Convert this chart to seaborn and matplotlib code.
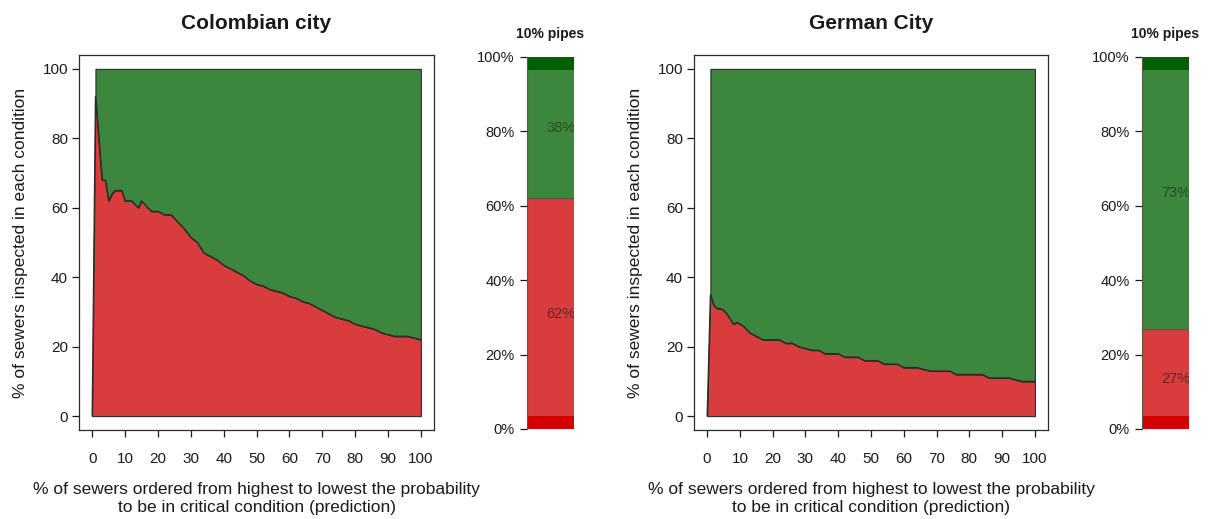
import matplotlib
matplotlib.use("Agg")
import matplotlib.pyplot as plt
import matplotlib.transforms as mtransforms
from matplotlib.ticker import FuncFormatter
import seaborn as sns
import pandas as pd

# --- data ---
x_pct = [0, 1, 2, 3, 4, 5, 6, 7, 8, 9, 10, 11, 12, 13, 14, 15, 16, 17, 18, 19, 20,
         22, 24, 26, 28, 30, 32, 34, 36, 38, 40, 42, 44, 46, 48, 50, 52, 54, 56, 58, 60,
         62, 64, 66, 68, 70, 72, 74, 76, 78, 80, 82, 84, 86, 88, 90, 92, 94, 96, 98, 100]

colombia_critical = [0, 92, 80, 68, 68, 62, 64, 65, 65, 65, 62, 62, 62, 61, 60, 62, 61, 60, 59, 59, 59,
                     58, 58, 56, 54, 51.5, 50, 47, 46, 45, 43.5, 42.5, 41.5, 40.5, 39, 38, 37.5, 36.5, 36, 35.5, 34.5,
                     34, 33, 32.5, 31.5, 30.5, 29.5, 28.5, 28, 27.5, 26.5, 26, 25.5, 25, 24, 23.5, 23, 23, 23, 22.5, 22]

germany_critical = [0, 35, 32, 31, 31, 30.5, 29.5, 28, 26.5, 27, 26.5, 26, 25, 24, 23.5, 23, 22.5, 22, 22, 22, 22,
                    22, 21, 21, 20, 19.5, 19, 19, 18, 18, 18, 17, 17, 17, 16, 16, 16, 15, 15, 15, 14,
                    14, 14, 13.5, 13, 13, 13, 13, 12, 12, 12, 12, 12, 11, 11, 11, 11, 10.5, 10, 10, 10]

# share of critical / not critical among the top 10% of pipes
top10_critical = {"Colombian city": 62, "German City": 27}
top10_good = {"Colombian city": 38, "German City": 73}
strip = 3.5   # darker bands at the bottom and top of each bar

cities = ["Colombian city", "German City"]
curves = {"Colombian city": colombia_critical, "German City": germany_critical}

GREEN = "#3d863d"
RED = "#d93c3c"
DARK_GREEN = "#006000"
DARK_RED = "#d40000"
EDGE = "#2b2b2b"

sns.set_theme(style="white")
plt.rcParams["font.family"] = ["Liberation Sans", "DejaVu Sans"]
plt.rcParams["text.color"] = "#1a1a1a"
plt.rcParams["axes.labelcolor"] = "#1a1a1a"
plt.rcParams["xtick.color"] = "#1a1a1a"
plt.rcParams["ytick.color"] = "#1a1a1a"

W, H = 1208, 519
fig = plt.figure(figsize=(W / 100, H / 100), dpi=100)


def px_axes(left, top, right, bottom):
    return fig.add_axes([left / W, 1 - bottom / H, (right - left) / W, (bottom - top) / H])


layout = {
    "Colombian city": ((79, 55, 434, 430), (527, 57, 574, 429)),
    "German City": ((694, 55, 1048, 430), (1142, 57, 1189, 429)),
}

for city in cities:
    main_box, bar_box = layout[city]
    ax = px_axes(*main_box)
    df = pd.DataFrame({"x": x_pct, "y": curves[city]})

    ax.fill_between(df["x"], 0, df["y"], color=RED, edgecolor=EDGE, linewidth=0.8, zorder=2)
    ax.fill_between(df["x"][1:], df["y"][1:], 100, color=GREEN, edgecolor=EDGE, linewidth=0.8, zorder=2)
    sns.lineplot(data=df, x="x", y="y", color=EDGE, linewidth=0.9, ax=ax, zorder=3)

    ax.set_xlim(-4, 104)
    ax.set_ylim(-4, 104)
    ax.set_xticks(range(0, 101, 10))
    ax.set_yticks(range(0, 101, 20))
    ax.tick_params(axis="both", direction="out", length=5, width=0.9, labelsize=11,
                   bottom=True, left=True)
    ax.tick_params(axis="x", pad=11)
    ax.tick_params(axis="y", pad=3)
    for sp in ax.spines.values():
        sp.set_color(EDGE)
        sp.set_linewidth(0.9)

    ax.set_title(city, fontsize=15, fontweight="bold", pad=19)
    ax.set_ylabel("% of sewers inspected in each condition", fontsize=12.5)
    ax.yaxis.set_label_coords(-0.145, 0.5)
    ax.set_xlabel("% of sewers ordered from highest to lowest the probability\n"
                  "to be in critical condition (prediction)", fontsize=12.5, linespacing=1.3)
    ax.xaxis.set_label_coords(0.5, -0.138)
    ax.xaxis.label.set_va("top")

    # --- stacked bar for the top 10% ---
    bx = px_axes(*bar_box)
    crit = top10_critical[city]
    good = top10_good[city]
    bx.bar(0, crit, width=1, color=RED, edgecolor="#555555", linewidth=0.8)
    bx.bar(0, good, bottom=crit, width=1, color=GREEN, edgecolor="#555555", linewidth=0.8)
    bx.bar(0, strip, width=1, color=DARK_RED, linewidth=0)
    bx.bar(0, strip, bottom=100 - strip, width=1, color=DARK_GREEN, linewidth=0)
    bx.set_xlim(-0.5, 0.5)
    bx.set_ylim(0, 100)

    trans = mtransforms.blended_transform_factory(bx.transAxes, bx.transData)
    bx.text(0.72, crit / 2, f"{crit}%", transform=trans, ha="center", va="center",
            fontsize=10.5, color="#3a2020", alpha=0.75, clip_on=True)
    bx.text(0.72, crit + good / 2, f"{good}%", transform=trans, ha="center", va="center",
            fontsize=10.5, color="#1f3a1f", alpha=0.75, clip_on=True)

    bx.set_xticks([])
    bx.set_yticks(range(0, 101, 20))
    bx.yaxis.set_major_formatter(FuncFormatter(lambda v, _: f"{v:.0f}%"))
    bx.tick_params(axis="y", direction="out", length=5, width=0.9, labelsize=10.5, left=True, pad=4)
    for name, sp in bx.spines.items():
        sp.set_visible(name == "left")
        sp.set_color("#555555")
        sp.set_linewidth(0.8)
    bx.set_title("10% pipes", fontsize=10, fontweight="bold", pad=14)

fig.savefig("out.png", dpi=100)
